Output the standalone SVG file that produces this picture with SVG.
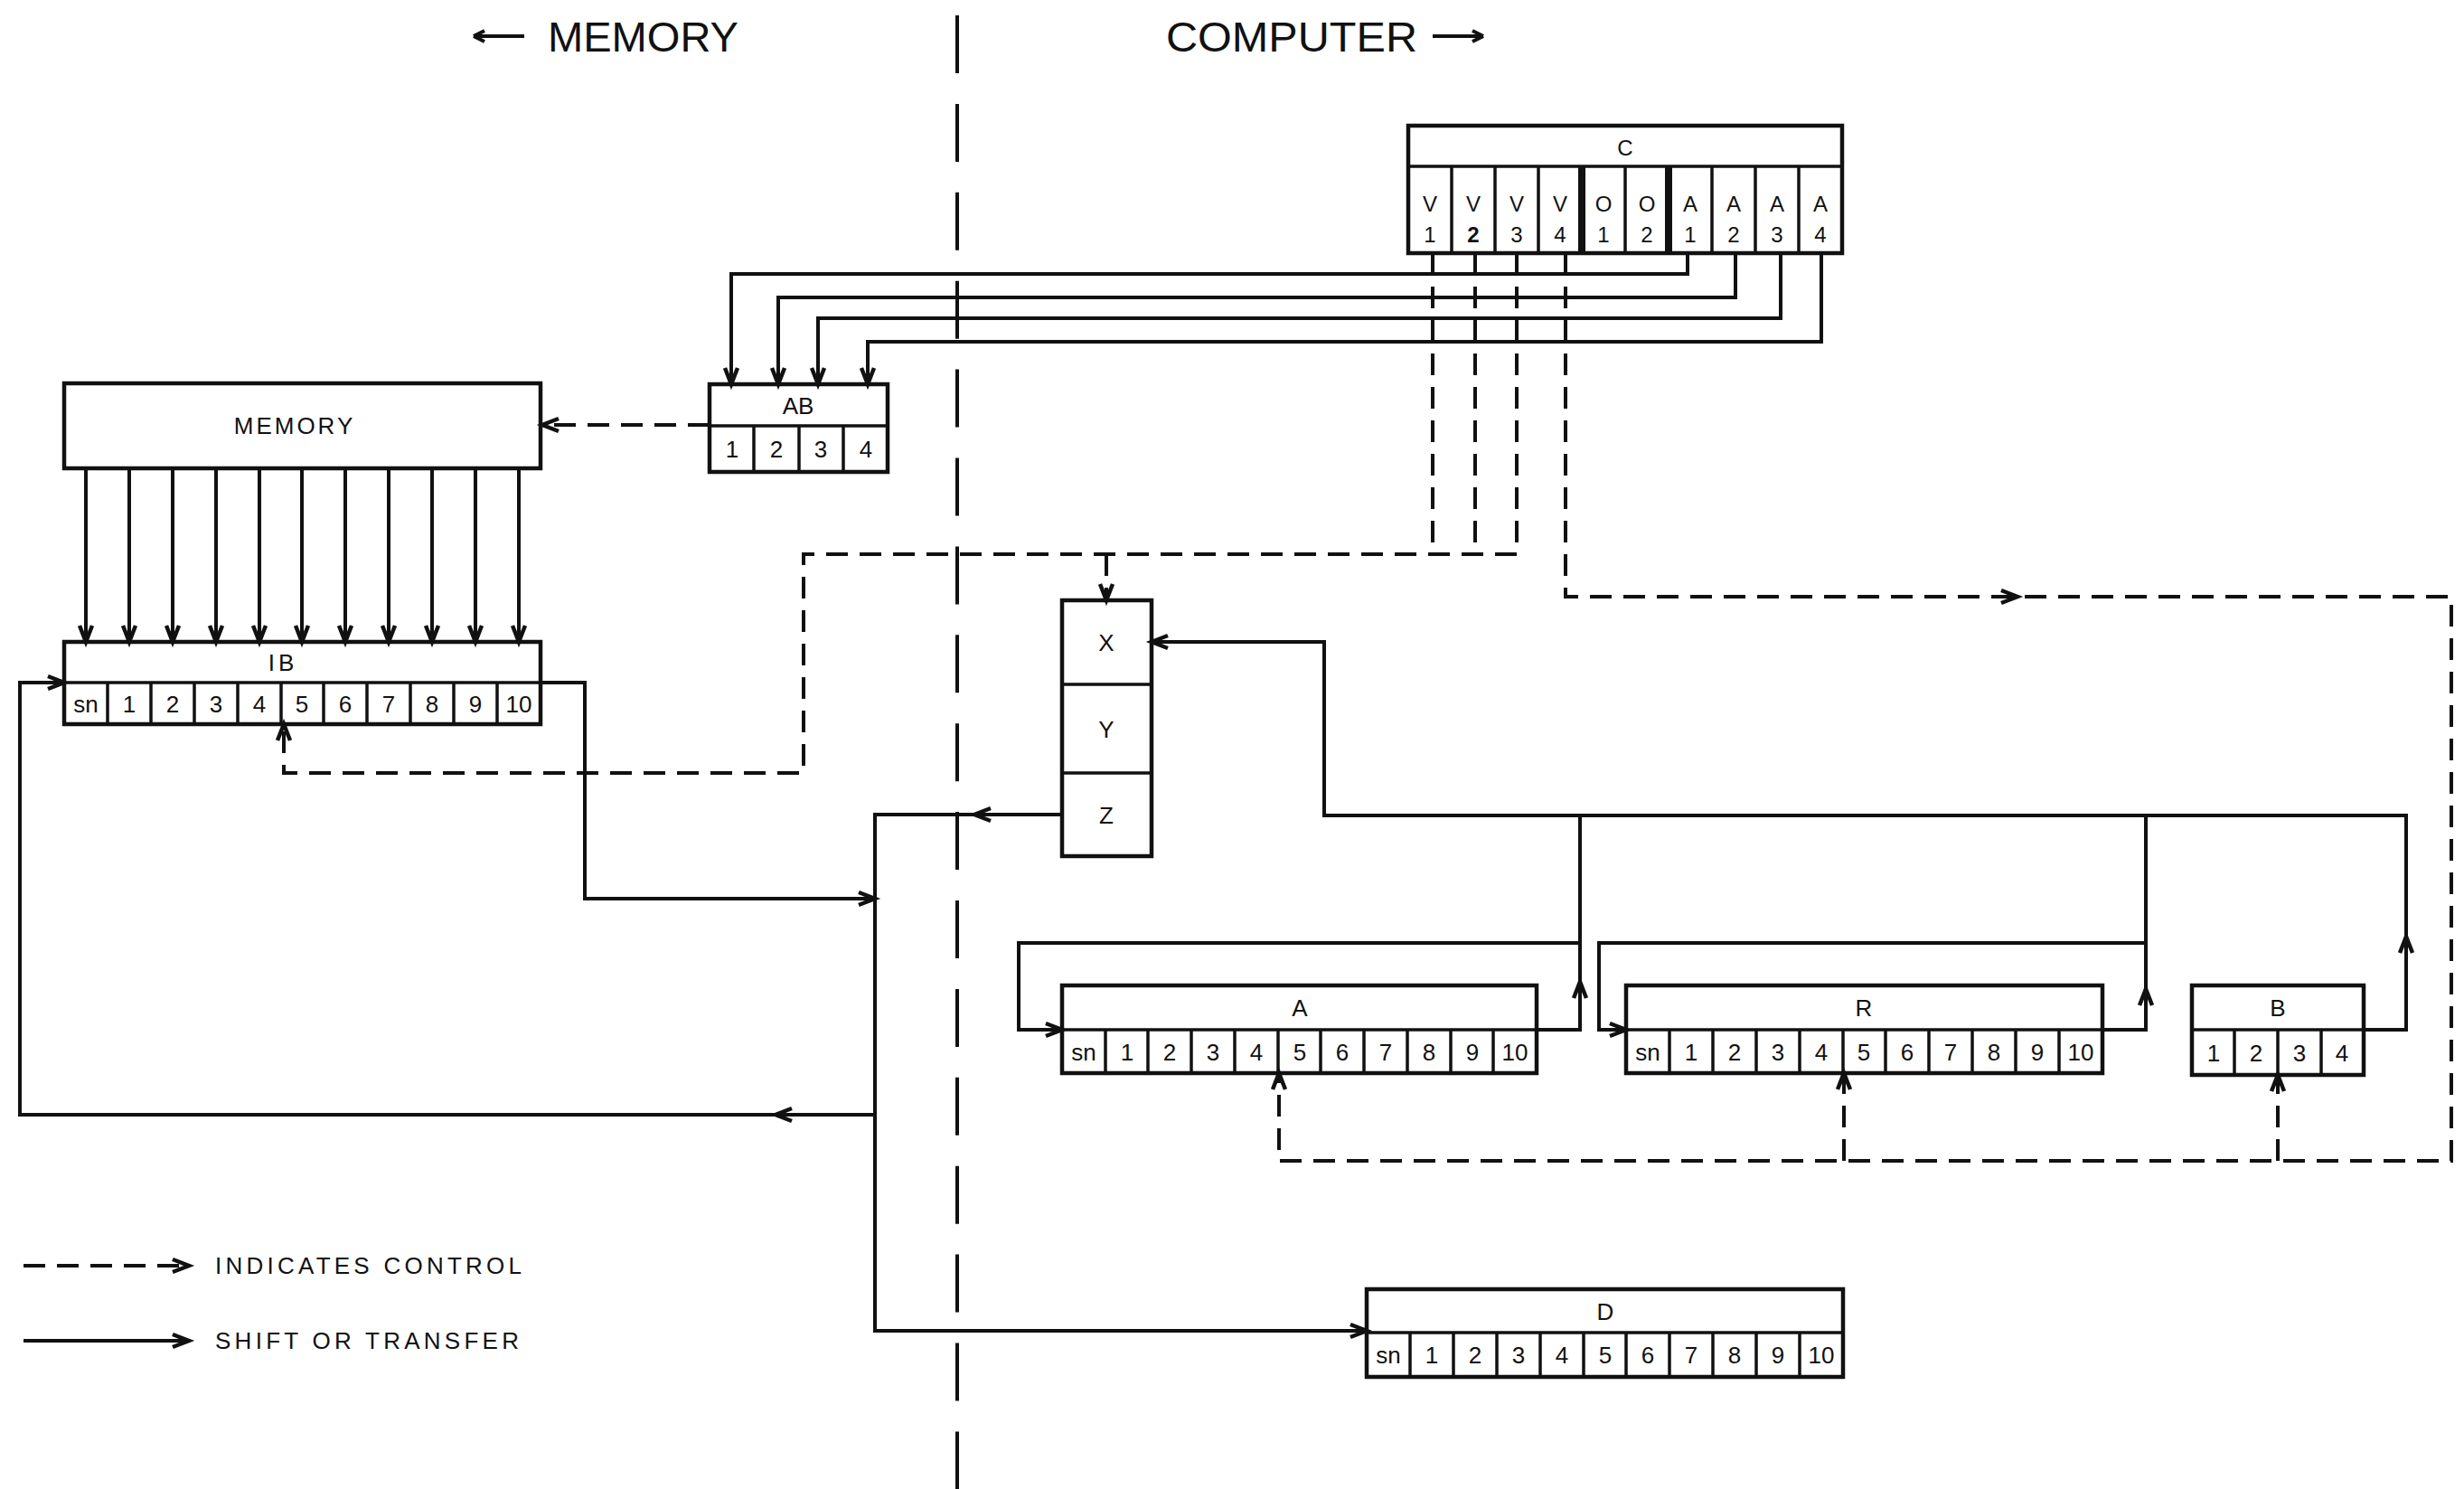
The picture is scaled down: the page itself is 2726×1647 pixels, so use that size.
<svg xmlns="http://www.w3.org/2000/svg" xmlns:xlink="http://www.w3.org/1999/xlink" width="2726" height="1647" viewBox="0 0 2726 1647">
<style>
.box{fill:#fff;stroke:#111;stroke-width:4.5}
.grid{stroke:#111;stroke-width:3.5}
.thick{stroke:#111;stroke-width:8}
.ln{fill:none;stroke:#111;stroke-width:4;stroke-linejoin:miter}
.dash{stroke-dasharray:24 13}
.div{fill:none;stroke:#111;stroke-width:4;stroke-dasharray:64 33.9}
.t{font-family:"Liberation Sans",Arial,sans-serif;font-size:26px;text-anchor:middle;fill:#111}
.tc{font-family:"Liberation Sans",Arial,sans-serif;font-size:24px;text-anchor:middle;fill:#111}
.title{font-family:"Liberation Sans",Arial,sans-serif;font-size:46px;fill:#111}
.leg{font-family:"Liberation Sans",Arial,sans-serif;font-size:26px;fill:#111}
</style>
<defs>
<path id="ah" d="M-18,-7 L0,0 L-18,7" fill="none" stroke="#111" stroke-width="4.5" stroke-linejoin="miter"/>
</defs>
<rect width="2726" height="1647" fill="#fff"/>

<g id="titles">
<path d="M524,40 H580 M524,40 l12,-6 M524,40 l12,6" class="ln"/>
<text class="title" x="606" y="57" textLength="211" lengthAdjust="spacingAndGlyphs">MEMORY</text>
<text class="title" x="1290" y="57" textLength="278" lengthAdjust="spacingAndGlyphs">COMPUTER</text>
<path d="M1585,40 H1641 M1641,40 l-12,-6 M1641,40 l-12,6" class="ln"/>
</g>

<g id="divider">
<path class="div" d="M1059,17 V1647"/>
</g>

<g id="node-C">
<rect class="box" x="1558" y="139" width="480" height="141"/>
<line class="grid" x1="1558" y1="184" x2="2038" y2="184"/>
<line class="grid" x1="1606" y1="184" x2="1606" y2="280"/>
<line class="grid" x1="1654" y1="184" x2="1654" y2="280"/>
<line class="grid" x1="1702" y1="184" x2="1702" y2="280"/>
<line class="thick" x1="1750" y1="184" x2="1750" y2="280"/>
<line class="grid" x1="1798" y1="184" x2="1798" y2="280"/>
<line class="thick" x1="1846" y1="184" x2="1846" y2="280"/>
<line class="grid" x1="1894" y1="184" x2="1894" y2="280"/>
<line class="grid" x1="1942" y1="184" x2="1942" y2="280"/>
<line class="grid" x1="1990" y1="184" x2="1990" y2="280"/>
<text class="tc" x="1798" y="172">C</text>
<text class="tc" x="1582" y="234">V</text><text class="tc" x="1582" y="268">1</text>
<text class="tc" x="1630" y="234">V</text><text class="tc" x="1630" y="268" font-weight="bold">2</text>
<text class="tc" x="1678" y="234">V</text><text class="tc" x="1678" y="268">3</text>
<text class="tc" x="1726" y="234">V</text><text class="tc" x="1726" y="268">4</text>
<text class="tc" x="1774" y="234">O</text><text class="tc" x="1774" y="268">1</text>
<text class="tc" x="1822" y="234">O</text><text class="tc" x="1822" y="268">2</text>
<text class="tc" x="1870" y="234">A</text><text class="tc" x="1870" y="268">1</text>
<text class="tc" x="1918" y="234">A</text><text class="tc" x="1918" y="268">2</text>
<text class="tc" x="1966" y="234">A</text><text class="tc" x="1966" y="268">3</text>
<text class="tc" x="2014" y="234">A</text><text class="tc" x="2014" y="268">4</text>
</g>

<g id="node-AB">
<rect class="box" x="785" y="425" width="197" height="97"/>
<line class="grid" x1="785" y1="471" x2="982" y2="471"/>
<line class="grid" x1="834" y1="471" x2="834" y2="522"/>
<line class="grid" x1="884" y1="471" x2="884" y2="522"/>
<line class="grid" x1="933" y1="471" x2="933" y2="522"/>
<text class="t" x="883" y="458">AB</text>
<text class="t" x="810" y="506">1</text><text class="t" x="859" y="506">2</text><text class="t" x="908" y="506">3</text><text class="t" x="958" y="506">4</text>
</g>

<g id="node-MEMORY">
<rect class="box" x="71" y="424" width="527" height="94"/>
<text class="t" x="326" y="480" letter-spacing="3">MEMORY</text>
</g>

<g id="node-IB">
<rect class="box" x="71" y="710" width="527" height="91"/>
<line class="grid" x1="71" y1="755" x2="598" y2="755"/>
<g class="grid">
<line x1="119" y1="755" x2="119" y2="801"/><line x1="167" y1="755" x2="167" y2="801"/><line x1="215" y1="755" x2="215" y2="801"/>
<line x1="263" y1="755" x2="263" y2="801"/><line x1="311" y1="755" x2="311" y2="801"/><line x1="358" y1="755" x2="358" y2="801"/>
<line x1="406" y1="755" x2="406" y2="801"/><line x1="454" y1="755" x2="454" y2="801"/><line x1="502" y1="755" x2="502" y2="801"/>
<line x1="550" y1="755" x2="550" y2="801"/>
</g>
<text class="t" x="313" y="742" letter-spacing="4">IB</text>
<text class="t" x="95" y="788">sn</text><text class="t" x="143" y="788">1</text><text class="t" x="191" y="788">2</text><text class="t" x="239" y="788">3</text><text class="t" x="287" y="788">4</text><text class="t" x="334" y="788">5</text><text class="t" x="382" y="788">6</text><text class="t" x="430" y="788">7</text><text class="t" x="478" y="788">8</text><text class="t" x="526" y="788">9</text><text class="t" x="574" y="788">10</text>
</g>

<g id="node-XYZ">
<rect class="box" x="1175" y="664" width="99" height="283"/>
<line class="grid" x1="1175" y1="757" x2="1274" y2="757"/>
<line class="grid" x1="1175" y1="855" x2="1274" y2="855"/>
<text class="t" x="1224" y="720">X</text>
<text class="t" x="1224" y="816">Y</text>
<text class="t" x="1224" y="911">Z</text>
</g>

<g id="node-A">
<rect class="box" x="1175" y="1090" width="525" height="97"/>
<line class="grid" x1="1175" y1="1139" x2="1700" y2="1139"/>
<g class="grid">
<line x1="1223" y1="1139" x2="1223" y2="1187"/><line x1="1270" y1="1139" x2="1270" y2="1187"/><line x1="1318" y1="1139" x2="1318" y2="1187"/>
<line x1="1366" y1="1139" x2="1366" y2="1187"/><line x1="1414" y1="1139" x2="1414" y2="1187"/><line x1="1461" y1="1139" x2="1461" y2="1187"/>
<line x1="1509" y1="1139" x2="1509" y2="1187"/><line x1="1557" y1="1139" x2="1557" y2="1187"/><line x1="1605" y1="1139" x2="1605" y2="1187"/>
<line x1="1652" y1="1139" x2="1652" y2="1187"/>
</g>
<text class="t" x="1438" y="1124">A</text>
<text class="t" x="1199" y="1173">sn</text><text class="t" x="1247" y="1173">1</text><text class="t" x="1294" y="1173">2</text><text class="t" x="1342" y="1173">3</text><text class="t" x="1390" y="1173">4</text><text class="t" x="1438" y="1173">5</text><text class="t" x="1485" y="1173">6</text><text class="t" x="1533" y="1173">7</text><text class="t" x="1581" y="1173">8</text><text class="t" x="1629" y="1173">9</text><text class="t" x="1676" y="1173">10</text>
</g>

<g id="node-R">
<rect class="box" x="1799" y="1090" width="527" height="97"/>
<line class="grid" x1="1799" y1="1139" x2="2326" y2="1139"/>
<g class="grid">
<line x1="1847" y1="1139" x2="1847" y2="1187"/><line x1="1895" y1="1139" x2="1895" y2="1187"/><line x1="1943" y1="1139" x2="1943" y2="1187"/>
<line x1="1991" y1="1139" x2="1991" y2="1187"/><line x1="2039" y1="1139" x2="2039" y2="1187"/><line x1="2086" y1="1139" x2="2086" y2="1187"/>
<line x1="2134" y1="1139" x2="2134" y2="1187"/><line x1="2182" y1="1139" x2="2182" y2="1187"/><line x1="2230" y1="1139" x2="2230" y2="1187"/>
<line x1="2278" y1="1139" x2="2278" y2="1187"/>
</g>
<text class="t" x="2062" y="1124">R</text>
<text class="t" x="1823" y="1173">sn</text><text class="t" x="1871" y="1173">1</text><text class="t" x="1919" y="1173">2</text><text class="t" x="1967" y="1173">3</text><text class="t" x="2015" y="1173">4</text><text class="t" x="2062" y="1173">5</text><text class="t" x="2110" y="1173">6</text><text class="t" x="2158" y="1173">7</text><text class="t" x="2206" y="1173">8</text><text class="t" x="2254" y="1173">9</text><text class="t" x="2302" y="1173">10</text>
</g>

<g id="node-B">
<rect class="box" x="2425" y="1090" width="190" height="99"/>
<line class="grid" x1="2425" y1="1139" x2="2615" y2="1139"/>
<line class="grid" x1="2472" y1="1139" x2="2472" y2="1189"/>
<line class="grid" x1="2520" y1="1139" x2="2520" y2="1189"/>
<line class="grid" x1="2568" y1="1139" x2="2568" y2="1189"/>
<text class="t" x="2520" y="1124">B</text>
<text class="t" x="2449" y="1174">1</text><text class="t" x="2496" y="1174">2</text><text class="t" x="2544" y="1174">3</text><text class="t" x="2591" y="1174">4</text>
</g>

<g id="node-D">
<rect class="box" x="1512" y="1426" width="527" height="97"/>
<line class="grid" x1="1512" y1="1474" x2="2039" y2="1474"/>
<g class="grid">
<line x1="1560" y1="1474" x2="1560" y2="1523"/><line x1="1608" y1="1474" x2="1608" y2="1523"/><line x1="1656" y1="1474" x2="1656" y2="1523"/>
<line x1="1704" y1="1474" x2="1704" y2="1523"/><line x1="1752" y1="1474" x2="1752" y2="1523"/><line x1="1799" y1="1474" x2="1799" y2="1523"/>
<line x1="1847" y1="1474" x2="1847" y2="1523"/><line x1="1895" y1="1474" x2="1895" y2="1523"/><line x1="1943" y1="1474" x2="1943" y2="1523"/>
<line x1="1991" y1="1474" x2="1991" y2="1523"/>
</g>
<text class="t" x="1776" y="1460">D</text>
<text class="t" x="1536" y="1508">sn</text><text class="t" x="1584" y="1508">1</text><text class="t" x="1632" y="1508">2</text><text class="t" x="1680" y="1508">3</text><text class="t" x="1728" y="1508">4</text><text class="t" x="1776" y="1508">5</text><text class="t" x="1823" y="1508">6</text><text class="t" x="1871" y="1508">7</text><text class="t" x="1919" y="1508">8</text><text class="t" x="1967" y="1508">9</text><text class="t" x="2015" y="1508">10</text>
</g>

<g id="connectors">
<path class="ln" d="M1867,280 V303 H809 V423"/>
<path class="ln" d="M1920,280 V329 H861 V423"/>
<path class="ln" d="M1970,280 V352 H905 V423"/>
<path class="ln" d="M2015,280 V378 H960 V423"/>
<use xlink:href="#ah" href="#ah" transform="translate(809,425) rotate(90)"/>
<use xlink:href="#ah" href="#ah" transform="translate(861,425) rotate(90)"/>
<use xlink:href="#ah" href="#ah" transform="translate(905,425) rotate(90)"/>
<use xlink:href="#ah" href="#ah" transform="translate(960,425) rotate(90)"/>
<path class="ln dash" d="M785,470 H600"/>
<use xlink:href="#ah" href="#ah" transform="translate(600,470) rotate(180)"/>
<g>
<path class="ln" d="M95,518 V708 M143,518 V708 M191,518 V708 M239,518 V708 M287,518 V708 M334,518 V708 M382,518 V708 M430,518 V708 M478,518 V708 M526,518 V708 M574,518 V708"/>
<use xlink:href="#ah" href="#ah" transform="translate(95,710) rotate(90)"/>
<use xlink:href="#ah" href="#ah" transform="translate(143,710) rotate(90)"/>
<use xlink:href="#ah" href="#ah" transform="translate(191,710) rotate(90)"/>
<use xlink:href="#ah" href="#ah" transform="translate(239,710) rotate(90)"/>
<use xlink:href="#ah" href="#ah" transform="translate(287,710) rotate(90)"/>
<use xlink:href="#ah" href="#ah" transform="translate(334,710) rotate(90)"/>
<use xlink:href="#ah" href="#ah" transform="translate(382,710) rotate(90)"/>
<use xlink:href="#ah" href="#ah" transform="translate(430,710) rotate(90)"/>
<use xlink:href="#ah" href="#ah" transform="translate(478,710) rotate(90)"/>
<use xlink:href="#ah" href="#ah" transform="translate(526,710) rotate(90)"/>
<use xlink:href="#ah" href="#ah" transform="translate(574,710) rotate(90)"/>
</g>
<path class="ln" d="M598,755 H647 V994 H966"/>
<use xlink:href="#ah" href="#ah" transform="translate(968,994)"/>
<path class="ln" d="M1175,901 H968 V1472 H1510"/>
<use xlink:href="#ah" href="#ah" transform="translate(1078,901) rotate(180)"/>
<use xlink:href="#ah" href="#ah" transform="translate(1512,1472)"/>
<path class="ln" d="M968,1233 H22 V755 H69"/>
<use xlink:href="#ah" href="#ah" transform="translate(858,1233) rotate(180)"/>
<use xlink:href="#ah" href="#ah" transform="translate(71,755)"/>
<path class="ln" d="M2615,1139 H2662 V902 H1465 V710 H1276"/>
<use xlink:href="#ah" href="#ah" transform="translate(1274,710) rotate(180)"/>
<use xlink:href="#ah" href="#ah" transform="translate(2662,1036) rotate(270)"/>
<path class="ln" d="M1700,1139 H1748 V902"/>
<path class="ln" d="M1748,1043 H1127 V1139 H1173"/>
<use xlink:href="#ah" href="#ah" transform="translate(1748,1086) rotate(270)"/>
<use xlink:href="#ah" href="#ah" transform="translate(1175,1139)"/>
<path class="ln" d="M2326,1139 H2374 V902"/>
<path class="ln" d="M2374,1043 H1769 V1139 H1797"/>
<use xlink:href="#ah" href="#ah" transform="translate(2374,1094) rotate(270)"/>
<use xlink:href="#ah" href="#ah" transform="translate(1799,1139)"/>
<path class="ln dash" d="M1585,280 V613"/>
<path class="ln dash" d="M1632,280 V613"/>
<path class="ln dash" d="M1678,280 V613 H889 V855 H314 V803"/>
<path class="ln dash" d="M1224,613 V662"/>
<use xlink:href="#ah" href="#ah" transform="translate(1224,664) rotate(90)"/>
<use xlink:href="#ah" href="#ah" transform="translate(314,801) rotate(270)"/>
<path class="ln dash" d="M1732,280 V660 H2712 V1284 H1415 V1189"/>
<path class="ln dash" d="M2040,1284 V1189"/>
<path class="ln dash" d="M2520,1284 V1191"/>
<use xlink:href="#ah" href="#ah" transform="translate(2232,660)"/>
<use xlink:href="#ah" href="#ah" transform="translate(1415,1187) rotate(270)"/>
<use xlink:href="#ah" href="#ah" transform="translate(2040,1187) rotate(270)"/>
<use xlink:href="#ah" href="#ah" transform="translate(2520,1189) rotate(270)"/>
</g>

<g id="legend">
<path class="ln dash" d="M26,1400 H207"/>
<use xlink:href="#ah" href="#ah" transform="translate(209,1400)"/>
<text class="leg" x="238" y="1409" textLength="339" lengthAdjust="spacing">INDICATES CONTROL</text>
<path class="ln" d="M26,1483 H207"/>
<use xlink:href="#ah" href="#ah" transform="translate(209,1483)"/>
<text class="leg" x="238" y="1492" textLength="336" lengthAdjust="spacing">SHIFT OR TRANSFER</text>
</g>
</svg>
